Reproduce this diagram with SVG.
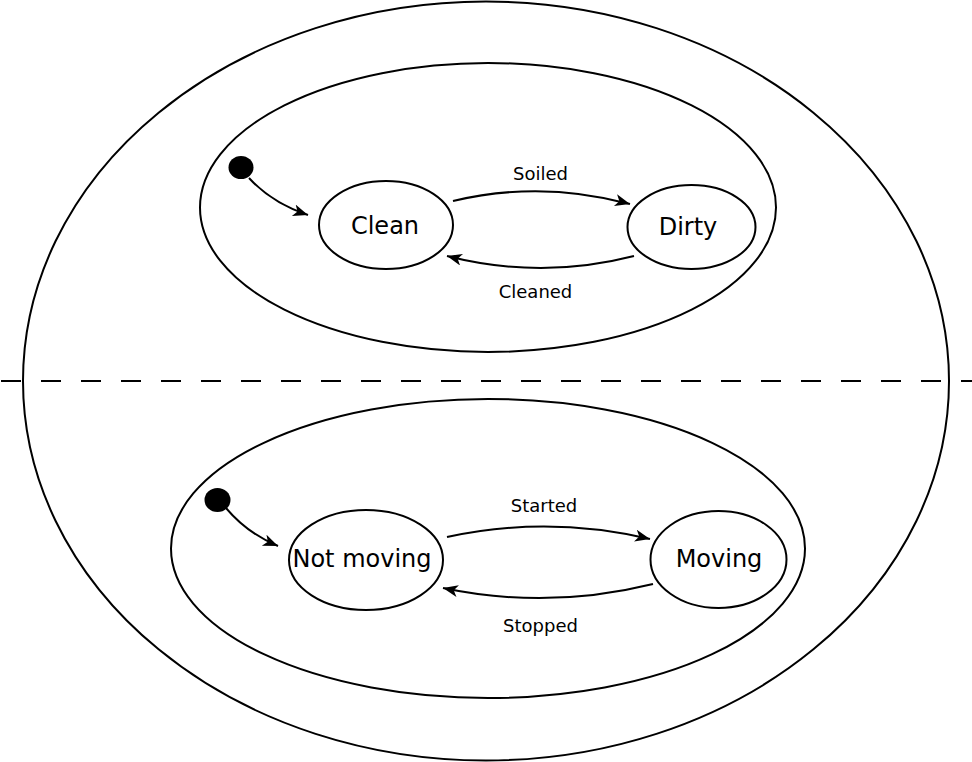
<svg xmlns="http://www.w3.org/2000/svg" width="972" height="762" viewBox="0 0 972 762">
<style>
.st{fill:#fff;stroke:#000;stroke-width:2}
.reg{fill:none;stroke:#000;stroke-width:2}
.init{fill:#000;stroke:none}
.edge{fill:none;stroke:#000;stroke-width:2;marker-end:url(#arr)}
.lbl{font-family:"DejaVu Sans",sans-serif;font-size:18px;text-anchor:middle;fill:#000}
.name{font-family:"DejaVu Sans",sans-serif;font-size:24px;text-anchor:middle;fill:#000}
</style>
<defs>
<marker id="arr" markerUnits="userSpaceOnUse" markerWidth="20" markerHeight="16" refX="15" refY="6" orient="auto">
<path d="M15,6 L0,0 L4,6 L0,12 Z" fill="#000"/>
</marker>
</defs>
<rect width="972" height="762" fill="#fff"/>
<g id="outer"><ellipse class="reg" cx="486" cy="381" rx="463" ry="379.5"/></g>
<g id="divider"><line x1="1" y1="381" x2="972" y2="381" stroke="#000" stroke-width="2" stroke-dasharray="20 20"/></g>
<g id="region-top"><ellipse class="reg" cx="488" cy="207.5" rx="288" ry="144.5"/></g>
<g id="region-bottom"><ellipse class="reg" cx="488" cy="548.5" rx="317" ry="149.5"/></g>
<g id="init-top"><ellipse class="init" cx="241" cy="167.5" rx="12.5" ry="11.5"/></g>
<g id="clean"><ellipse class="st" cx="386" cy="225" rx="67" ry="44"/><text class="name" x="385" y="234">Clean</text></g>
<g id="dirty"><ellipse class="st" cx="691.5" cy="227" rx="64" ry="42"/><text class="name" x="688" y="235">Dirty</text></g>
<g id="init-bottom"><ellipse class="init" cx="217.5" cy="500" rx="13" ry="12"/></g>
<g id="notmoving"><ellipse class="st" cx="366" cy="560" rx="77" ry="50"/><text class="name" x="362" y="567">Not moving</text></g>
<g id="moving"><ellipse class="st" cx="718.5" cy="559.5" rx="68" ry="48.5"/><text class="name" x="719" y="567">Moving</text></g>
<g id="connectors">
<path class="edge" d="M249,178 Q272,203 308,215"/>
<path class="edge" d="M453,201 Q541,180 630,204"/>
<path class="edge" d="M634,256 Q541,280 447,256"/>
<path class="edge" d="M226,508 Q247,533 278,546"/>
<path class="edge" d="M447,537 Q548,515 650,539"/>
<path class="edge" d="M653,584 Q548,610 443,588"/>
<text class="lbl" x="540.5" y="180">Soiled</text>
<text class="lbl" x="535.5" y="298">Cleaned</text>
<text class="lbl" x="544" y="512">Started</text>
<text class="lbl" x="540.5" y="632">Stopped</text>
</g>
</svg>
